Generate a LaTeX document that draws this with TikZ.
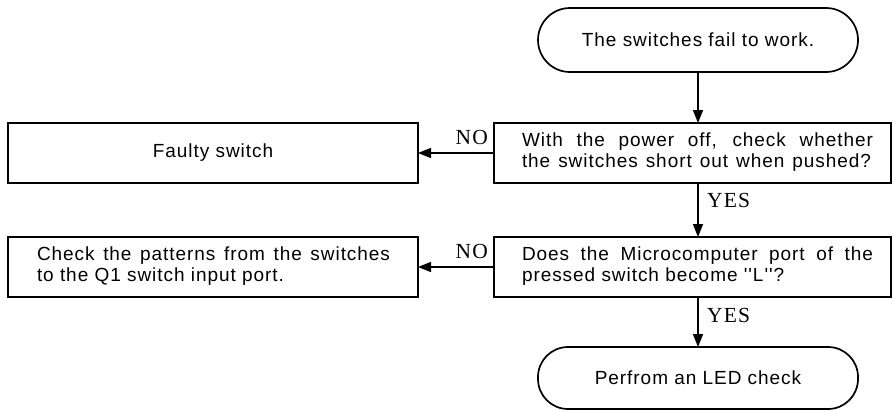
\documentclass[tikz,border=0pt]{standalone}
\usepackage{fontspec}
\setmainfont{Liberation Serif}
\newfontfamily\boxfont[LetterSpace=5]{Liberation Sans}
\newfontfamily\lblfont[LetterSpace=6]{Liberation Serif}
\usetikzlibrary{arrows.meta}
\tikzset{
  x=1pt, y=-1pt,
  every node/.style={inner sep=0pt, outer sep=0pt},
  boxline/.style={draw=black, line width=1.7pt},
  procbox/.style={boxline, rectangle, minimum width=410pt, minimum height=60pt},
  askbox/.style={boxline, rectangle, minimum width=397pt, minimum height=60pt},
  termbox/.style={boxline, rectangle, rounded corners=30pt, minimum width=320pt, minimum height=62pt},
  btext/.style={font=\boxfont\fontsize{19}{21.5}\selectfont, align=left},
  lbl/.style={font=\lblfont\fontsize{21.5}{21.5}\selectfont},
  flow/.style={line width=1.4pt, -{Triangle[length=13pt,width=10pt]}}
}
\begin{document}
\begin{tikzpicture}
\useasboundingbox (0,0) rectangle (893,410);
% boxes
\node[termbox, minimum height=64pt, rounded corners=32pt] (start) at (698,40) {};
\node[askbox] (q1) at (692.5,153) {};
\node[procbox] (faulty) at (213,153) {};
\node[askbox] (q2) at (692.5,267) {};
\node[procbox] (check) at (213,267) {};
\node[termbox] (led) at (698,378) {};
% texts
\node[btext] (tstart) at (698,40) {The switches fail to work.};
\node[btext, anchor=west] (tq1) at (522,152) {\makebox[351pt][s]{With the power off, check whether}\\\makebox[349pt][s]{the switches short out when pushed?}};
\node[btext] (tfaulty) at (213,153) {Faulty switch};
\node[btext, anchor=west] (tq2) at (522,266) {\makebox[351pt][s]{Does the Microcomputer port of the}\\pressed switch become ''L''?};
\node[btext, anchor=west] (tcheck) at (37,266) {\makebox[353pt][s]{Check the patterns from the switches}\\to the Q1 switch input port.};
\node[btext] (tled) at (698,378) {Perfrom an LED check};
% connectors
\draw[flow] (start.south -| 698,0) -- (698,0 |- q1.north);
\draw[flow] (q1.south -| 698,0) -- (698,0 |- q2.north);
\draw[flow] (q2.south -| 698,0) -- (698,0 |- led.north);
\draw[flow] (q1.west) -- (faulty.east);
\draw[flow] (q2.west) -- (check.east);
% labels
\node[lbl, anchor=east] (no1) at (488,137) {NO};
\node[lbl, anchor=east] (no2) at (488,251) {NO};
\node[lbl, anchor=west] (yes1) at (707,200) {YES};
\node[lbl, anchor=west] (yes2) at (707,315) {YES};
\end{tikzpicture}
\end{document}
